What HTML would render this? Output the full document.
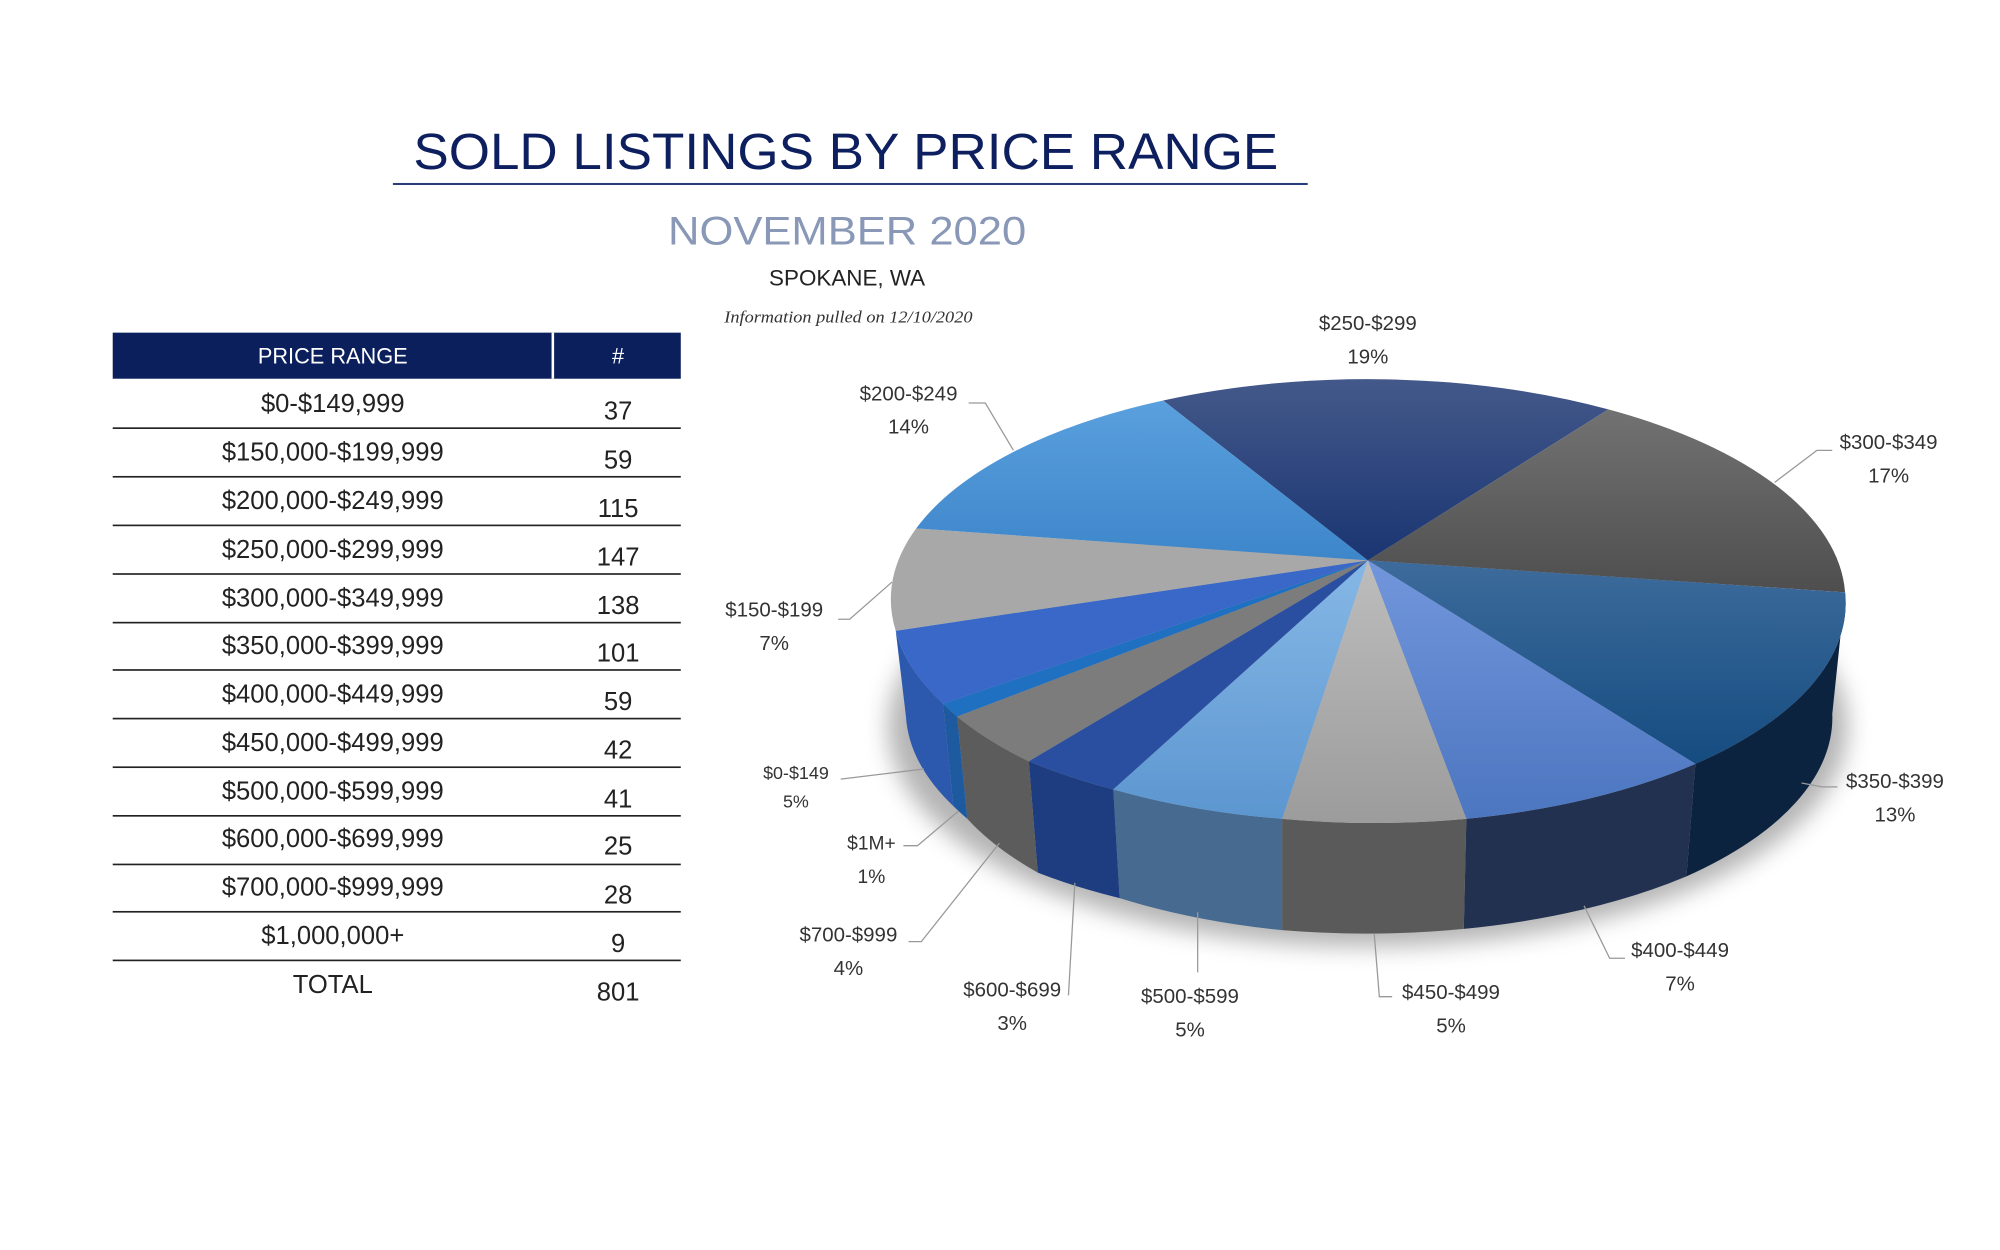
<!DOCTYPE html>
<html><head><meta charset="utf-8"><style>
html,body{margin:0;padding:0;background:#fff;}
svg{display:block;}
text{font-family:"Liberation Sans",sans-serif;}
</style></head><body>
<svg width="2000" height="1250" viewBox="0 0 1563 977" xmlns="http://www.w3.org/2000/svg">
<defs>
<filter id="blur" x="-20%" y="-50%" width="140%" height="200%"><feGaussianBlur stdDeviation="9"/></filter>
<linearGradient id="g250" x1="0" y1="0" x2="0" y2="1"><stop offset="0" stop-color="#44598a"/><stop offset="1" stop-color="#1a3572"/></linearGradient>
<linearGradient id="g300" x1="0" y1="0" x2="0" y2="1"><stop offset="0" stop-color="#727272"/><stop offset="1" stop-color="#4e4e4e"/></linearGradient>
<linearGradient id="g350" x1="0" y1="0" x2="0" y2="1"><stop offset="0" stop-color="#3d6b9c"/><stop offset="1" stop-color="#154c80"/></linearGradient>
<linearGradient id="g400" x1="0" y1="0" x2="0" y2="1"><stop offset="0" stop-color="#7296dc"/><stop offset="1" stop-color="#4c76c0"/></linearGradient>
<linearGradient id="g450" x1="0" y1="0" x2="0" y2="1"><stop offset="0" stop-color="#bdbdbd"/><stop offset="1" stop-color="#9c9c9c"/></linearGradient>
<linearGradient id="g500" x1="0" y1="0" x2="0" y2="1"><stop offset="0" stop-color="#86b8e6"/><stop offset="1" stop-color="#5c96d0"/></linearGradient>
<linearGradient id="g200" x1="0" y1="0" x2="0" y2="1"><stop offset="0" stop-color="#5aa0de"/><stop offset="1" stop-color="#3d86ca"/></linearGradient>
</defs>

<!-- Titles -->
<text x="661" y="132" font-size="40" fill="#0d1f5e" text-anchor="middle" textLength="676" lengthAdjust="spacingAndGlyphs">SOLD LISTINGS BY PRICE RANGE</text>
<rect x="307" y="143" width="715" height="1.6" fill="#2a3f7a"/>
<text x="662" y="191" font-size="31" fill="#8898b6" text-anchor="middle" textLength="280" lengthAdjust="spacingAndGlyphs">NOVEMBER 2020</text>
<text x="662" y="223" font-size="17" fill="#222" text-anchor="middle" textLength="122" lengthAdjust="spacingAndGlyphs">SPOKANE, WA</text>
<text x="663" y="252" font-size="13" fill="#333" font-style="italic" font-family="Liberation Serif,serif" style="font-family:'Liberation Serif',serif" text-anchor="middle" textLength="194" lengthAdjust="spacingAndGlyphs">Information pulled on 12/10/2020</text>

<!-- Table -->
<rect x="88" y="260" width="444" height="36" fill="#0b1f5c"/>
<rect x="431" y="260" width="2" height="36" fill="#fff"/>
<text x="260" y="284" font-size="17" fill="#fff" text-anchor="middle">PRICE RANGE</text>
<text x="483" y="284" font-size="17" fill="#fff" text-anchor="middle">#</text>
<g fill="#222" font-size="20" text-anchor="middle">
<text x="260" y="322">$0-$149,999</text><text x="483" y="328">37</text>
<text x="260" y="360">$150,000-$199,999</text><text x="483" y="366">59</text>
<text x="260" y="398">$200,000-$249,999</text><text x="483" y="404">115</text>
<text x="260" y="436">$250,000-$299,999</text><text x="483" y="442">147</text>
<text x="260" y="474">$300,000-$349,999</text><text x="483" y="480">138</text>
<text x="260" y="511">$350,000-$399,999</text><text x="483" y="517">101</text>
<text x="260" y="549">$400,000-$449,999</text><text x="483" y="555">59</text>
<text x="260" y="587">$450,000-$499,999</text><text x="483" y="593">42</text>
<text x="260" y="625">$500,000-$599,999</text><text x="483" y="631">41</text>
<text x="260" y="662">$600,000-$699,999</text><text x="483" y="668">25</text>
<text x="260" y="700">$700,000-$999,999</text><text x="483" y="706">28</text>
<text x="260" y="738">$1,000,000+</text><text x="483" y="744">9</text>
<text x="260" y="776">TOTAL</text><text x="483" y="782">801</text>
</g>
<g fill="#222">
<rect x="88" y="334" width="444" height="1.3"/><rect x="88" y="372" width="444" height="1.3"/>
<rect x="88" y="410" width="444" height="1.3"/><rect x="88" y="448" width="444" height="1.3"/>
<rect x="88" y="486" width="444" height="1.3"/><rect x="88" y="523" width="444" height="1.3"/>
<rect x="88" y="561" width="444" height="1.3"/><rect x="88" y="599" width="444" height="1.3"/>
<rect x="88" y="637" width="444" height="1.3"/><rect x="88" y="675" width="444" height="1.3"/>
<rect x="88" y="712" width="444" height="1.3"/><rect x="88" y="750" width="444" height="1.3"/>
</g>

<!-- Pie shadow -->
<ellipse cx="1069" cy="568" rx="375" ry="172" fill="#777" opacity="0.55" filter="url(#blur)"/>

<!-- Side walls (rx 372 ry 172, depth 88) -->
<g>
<path d="M1442,463 A372,172 0 0 1 1325,597 L1318,685 A372,172 0 0 0 1432,558 Z" fill="#0c2340"/>
<path d="M1325,597 A372,172 0 0 1 1146,640 L1144,726 A372,172 0 0 0 1318,685 Z" fill="#22314f"/>
<path d="M1146,640 A372,172 0 0 1 1002,640 L1002,727 A372,172 0 0 0 1144,726 Z" fill="#5a5a5a"/>
<path d="M1002,640 A372,172 0 0 1 870,617 L875,702 A372,172 0 0 0 1002,727 Z" fill="#466a90"/>
<path d="M870,617 A372,172 0 0 1 804,595 L811,682 A372,172 0 0 0 875,702 Z" fill="#1e3c80"/>
<path d="M804,595 A372,172 0 0 1 748,560 L756,640 A372,172 0 0 0 811,682 Z" fill="#5c5c5c"/>
<path d="M748,560 A372,172 0 0 1 737,550 L745,630 A372,172 0 0 0 756,640 Z" fill="#1e5aa0"/>
<path d="M737,550 A372,172 0 0 1 700,493 L708,560 A372,172 0 0 0 745,630 Z" fill="#2c58ae"/>
</g>

<!-- Top faces, apex (1069,438) -->
<g>
<path d="M1069,438 L909,313 A372,172 0 0 1 1257,320 Z" fill="url(#g250)"/>
<path d="M1069,438 L1257,320 A372,172 0 0 1 1442,463 Z" fill="url(#g300)"/>
<path d="M1069,438 L1442,463 A372,172 0 0 1 1325,597 Z" fill="url(#g350)"/>
<path d="M1069,438 L1325,597 A372,172 0 0 1 1146,640 Z" fill="url(#g400)"/>
<path d="M1069,438 L1146,640 A372,172 0 0 1 1002,640 Z" fill="url(#g450)"/>
<path d="M1069,438 L1002,640 A372,172 0 0 1 870,617 Z" fill="url(#g500)"/>
<path d="M1069,438 L870,617 A372,172 0 0 1 804,595 Z" fill="#2a4fa0"/>
<path d="M1069,438 L804,595 A372,172 0 0 1 748,560 Z" fill="#7c7c7c"/>
<path d="M1069,438 L748,560 A372,172 0 0 1 737,550 Z" fill="#1f70c0"/>
<path d="M1069,438 L737,550 A372,172 0 0 1 700,493 Z" fill="#3a68c8"/>
<path d="M1069,438 L700,493 A372,172 0 0 1 716,413 Z" fill="#a8a8a8"/>
<path d="M1069,438 L716,413 A372,172 0 0 1 909,313 Z" fill="url(#g200)"/>
</g>

<!-- Leader lines -->
<g stroke="#999" stroke-width="1" fill="none">
<polyline points="757,315 770,315 792,352"/>
<polyline points="1432,352 1420,352 1387,377"/>
<polyline points="655,484 664,484 697,455"/>
<polyline points="657,609 722,601"/>
<polyline points="706,661 717,661 749,634"/>
<polyline points="710,736 720,736 781,659"/>
<polyline points="835,778 840,690"/>
<line x1="936" y1="760" x2="936" y2="713"/>
<polyline points="1088,779 1078,779 1074,730"/>
<polyline points="1270,749 1258,749 1238,708"/>
<polyline points="1436,615 1424,615 1408,612"/>
</g>

<!-- Labels -->
<g fill="#333" font-size="16" text-anchor="middle">
<text x="1069" y="258">$250-$299</text><text x="1069" y="284">19%</text>
<text x="710" y="313">$200-$249</text><text x="710" y="339">14%</text>
<text x="1476" y="351">$300-$349</text><text x="1476" y="377">17%</text>
<text x="605" y="482">$150-$199</text><text x="605" y="508">7%</text>
<text x="622" y="609" font-size="14">$0-$149</text><text x="622" y="631" font-size="14">5%</text>
<text x="681" y="664" font-size="15">$1M+</text><text x="681" y="690" font-size="15">1%</text>
<text x="663" y="736">$700-$999</text><text x="663" y="762">4%</text>
<text x="791" y="779">$600-$699</text><text x="791" y="805">3%</text>
<text x="930" y="784">$500-$599</text><text x="930" y="810">5%</text>
<text x="1134" y="781">$450-$499</text><text x="1134" y="807">5%</text>
<text x="1313" y="748">$400-$449</text><text x="1313" y="774">7%</text>
<text x="1481" y="616">$350-$399</text><text x="1481" y="642">13%</text>
</g>
</svg>
</body></html>
